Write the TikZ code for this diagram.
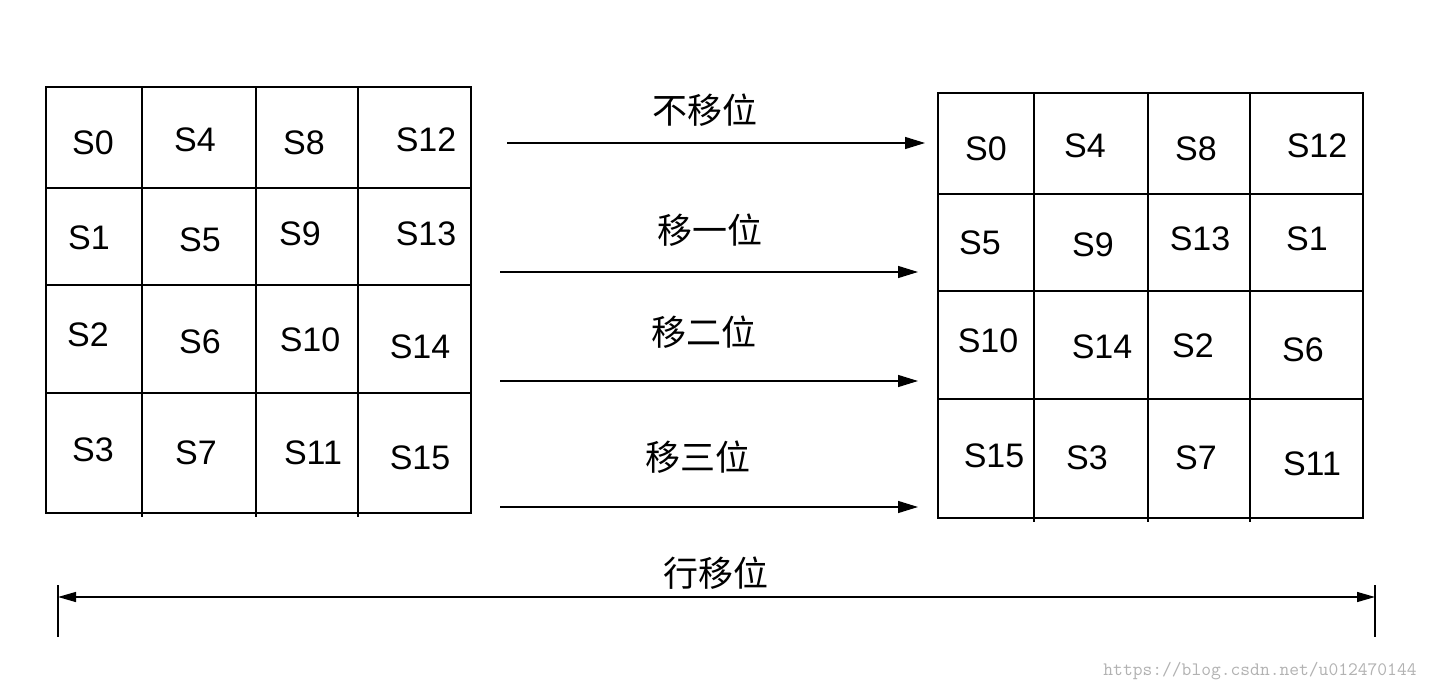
\documentclass[tikz,border=0pt]{standalone}
\usepackage{fontspec}
\setmainfont{Liberation Sans}
\newfontfamily\cjk{Noto Sans CJK SC}
\usetikzlibrary{arrows.meta}
\begin{document}
\begin{tikzpicture}[x=1pt,y=-1pt,
  lab/.style={font=\fontsize{34}{36}\selectfont,inner sep=0pt},
  cn/.style={font=\cjk\fontsize{35}{38}\selectfont,inner sep=0pt},
  grid/.style={line width=1.3pt},
  arr/.style={line width=1.3pt,-{Triangle[length=20pt,width=12pt]}}]
\useasboundingbox[fill=white] (0,0) rectangle (1432,692);
% left grid
\draw[grid] (46,87) rectangle (471,513);
\foreach \x in {142,256,358} \draw[grid] (\x,87) -- (\x,517);
\foreach \y in {188,285,393} \draw[grid] (46,\y) -- (471,\y);
% right grid
\draw[grid] (938,93) rectangle (1363,518);
\foreach \x in {1034,1148,1250} \draw[grid] (\x,93) -- (\x,522);
\foreach \y in {194,291,399} \draw[grid] (938,\y) -- (1363,\y);
% left labels
\foreach \t/\x/\y in {S0/93/143,S4/195/140,S8/304/143,S12/426/140,
  S1/89/238,S5/200/240,S9/300/234,S13/426/234,
  S2/88/335,S6/200/342,S10/310/340,S14/420/347,
  S3/93/450,S7/196/453,S11/313/453,S15/420/458}
  \node[lab] (L\t) at (\x,\y) {\t};
\foreach \t/\n/\x/\y in {S0/a/986/149,S4/b/1085/146,S8/c/1196/149,S12/d/1317/146,
  S5/e/980/243,S9/f/1093/245,S13/g/1200/239,S1/h/1307/239,
  S10/i/988/341,S14/j/1102/347,S2/k/1193/346,S6/l/1303/350,
  S15/m/994/456,S3/n/1087/458,S7/o/1196/458,S11/p/1312/464}
  \node[lab] (R\n) at (\x,\y) {\t};
% arrows
\coordinate (a0) at (507,143); \coordinate (b0) at (925,143);
\coordinate (a1) at (500,272); \coordinate (b1) at (918,272);
\coordinate (a2) at (500,381); \coordinate (b2) at (918,381);
\coordinate (a3) at (500,507); \coordinate (b3) at (918,507);
\foreach \i in {0,1,2,3} \draw[arr] (a\i) -- (b\i);
\node[cn] (t0) at (705,110) {不移位};
\node[cn] (t1) at (710,230) {移一位};
\node[cn] (t2) at (704,332) {移二位};
\node[cn] (t3) at (698,457) {移三位};
% bottom
\coordinate (p1) at (58,597); \coordinate (p2) at (1375,597);
\draw[line width=1.3pt,{Triangle[length=18pt,width=10pt]}-{Triangle[length=18pt,width=10pt]}] (p1) -- (p2);
\coordinate (v1a) at (58,585); \coordinate (v1b) at (58,637);
\coordinate (v2a) at (1375,585); \coordinate (v2b) at (1375,637);
\draw[line width=1.3pt] (v1a) -- (v1b) (v2a) -- (v2b);
\node[cn] (tb) at (716,573) {行移位};
\node[font=\ttfamily\fontsize{19}{20}\selectfont,text=gray!60,inner sep=0pt] (wm) at (1260,671) {https://blog.csdn.net/u012470144};
\end{tikzpicture}
\end{document}
